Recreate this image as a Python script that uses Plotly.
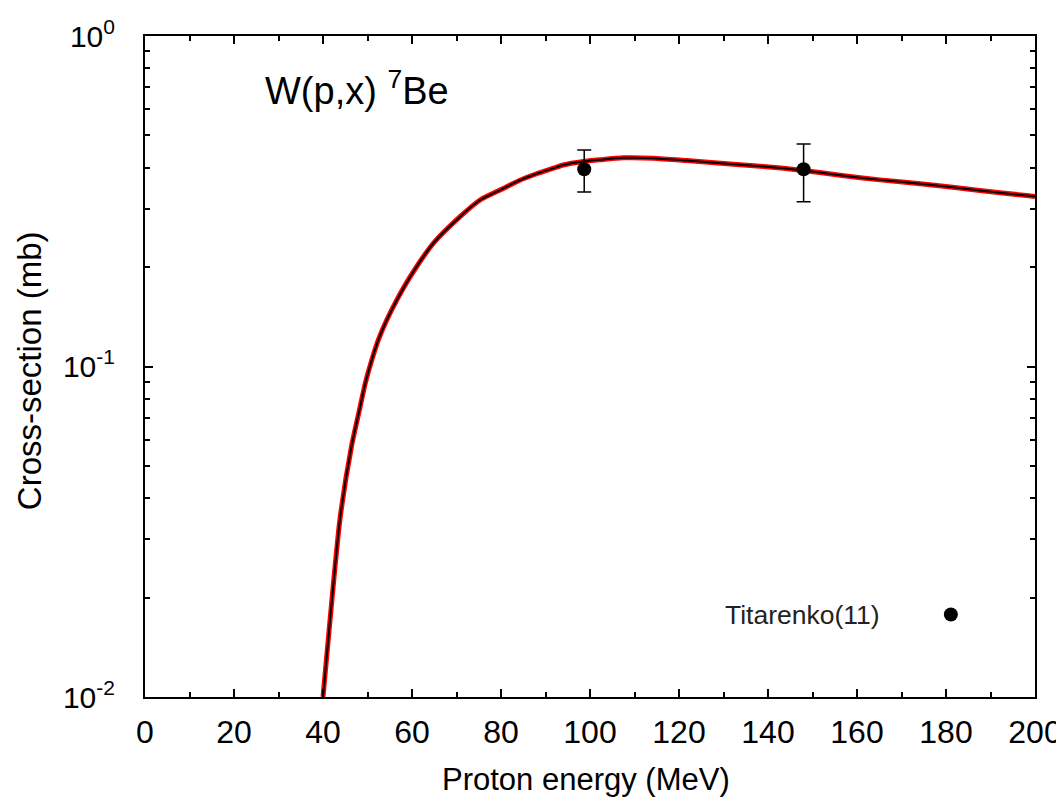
import plotly.graph_objects as go

# Model curve (proton energy MeV, cross-section mb)
curve_energy = [40, 41.6, 43.8, 46.4, 48.2, 49.5, 50.9, 52.5, 54.3, 56.6, 59.6, 64.8,
                70.8, 75.3, 80.0, 84.0, 88.0, 91.8, 94, 98.5, 102.2, 107.5, 114.2, 121.7,
                131.5, 139, 147.9, 156.2, 165.2, 176.4, 187.6, 198.1, 200]
curve_xs = [0.01, 0.0172, 0.0344, 0.0573, 0.074, 0.089, 0.104, 0.121, 0.138, 0.159,
            0.187, 0.236, 0.284, 0.319, 0.343, 0.365, 0.383, 0.398, 0.407, 0.417, 0.422,
            0.428, 0.427, 0.42, 0.41, 0.403, 0.392, 0.379, 0.367, 0.355, 0.341, 0.329,
            0.327]

# Experimental data: Titarenko(11)
exp_energy = [98.7, 148.0]
exp_xs = [0.395, 0.395]
exp_err_plus = [0.057, 0.076]
exp_err_minus = [0.058, 0.080]

x_ticks = [0, 20, 40, 60, 80, 100, 120, 140, 160, 180, 200]
y_tickvals = [0.01, 0.1, 1]
y_ticktext = ["10<sup>-2</sup>", "10<sup>-1</sup>", "10<sup>0</sup>"]
y_minor = [m * d for d in (0.01, 0.1) for m in range(2, 10)]

FONT = "Liberation Sans, Arial, sans-serif"

fig = go.Figure()
fig.add_trace(go.Scatter(x=curve_energy, y=curve_xs, mode="lines",
                         line=dict(color="#ff0000", width=5, shape="spline", smoothing=0.6),
                         showlegend=False, hoverinfo="skip"))
fig.add_trace(go.Scatter(x=curve_energy, y=curve_xs, mode="lines",
                         line=dict(color="black", width=2, shape="spline", smoothing=0.6),
                         showlegend=False))
fig.add_trace(go.Scatter(x=exp_energy, y=exp_xs, mode="markers", name="",
                         marker=dict(color="black", size=14),
                         error_y=dict(type="data", symmetric=False, array=exp_err_plus,
                                      arrayminus=exp_err_minus, color="black",
                                      thickness=1.5, width=7),
                         showlegend=True))

fig.add_annotation(text="W(p,x) <sup>7</sup>Be", xref="paper", yref="paper",
                   x=0.1326, y=0.921, xanchor="left", yanchor="middle",
                   showarrow=False, font=dict(family=FONT, size=38, color="black"))
fig.add_annotation(text="Titarenko(11)", xref="paper", yref="paper",
                   x=0.828, y=0.1247, xanchor="right", yanchor="middle",
                   showarrow=False, font=dict(family=FONT, size=26.5, color="#222"))
fig.add_annotation(text="Cross-section (mb)", xref="paper", yref="paper",
                   x=-0.1303, y=0.493, xanchor="center", yanchor="middle",
                   textangle=-90, showarrow=False,
                   font=dict(family=FONT, size=33, color="black"))
fig.add_annotation(text="Proton energy (MeV)", xref="paper", yref="paper",
                   x=0.495, y=-0.1247, xanchor="center", yanchor="middle",
                   showarrow=False, font=dict(family=FONT, size=31, color="black"))

# The page adds an 8px body margin, so the figure is 8px smaller than the window.
fig.update_layout(
    width=1056, height=795,
    margin=dict(l=137, r=29, t=28, b=105.5),
    paper_bgcolor="white", plot_bgcolor="white",
    font=dict(family=FONT, color="black"),
    legend=dict(x=0.883, y=0.1247, xanchor="left", yanchor="middle",
                bgcolor="rgba(0,0,0,0)", borderwidth=0, itemwidth=30),
)
fig.update_xaxes(range=[0, 200], tickvals=x_ticks, ticks="inside", ticklen=8,
                 tickwidth=1.5, tickcolor="black", automargin=False,
                 minor=dict(dtick=10, ticks="inside", ticklen=5, tickwidth=1.5,
                            tickcolor="black", showgrid=False),
                 showline=True, linecolor="black", linewidth=2, mirror="allticks",
                 showgrid=False, zeroline=False, ticklabelstandoff=6,
                 tickfont=dict(size=32, family=FONT))
fig.update_yaxes(type="log", range=[-2, 0], tickvals=y_tickvals, ticktext=y_ticktext,
                 ticks="inside", ticklen=8, tickwidth=1.5, tickcolor="black",
                 automargin=False,
                 minor=dict(tickvals=y_minor, ticks="inside", ticklen=5, tickwidth=1.5,
                            tickcolor="black", showgrid=False),
                 showline=True, linecolor="black", linewidth=2, mirror="allticks",
                 showgrid=False, zeroline=False, ticklabelstandoff=22,
                 tickfont=dict(size=30, family=FONT))

fig.write_html("out.html")
